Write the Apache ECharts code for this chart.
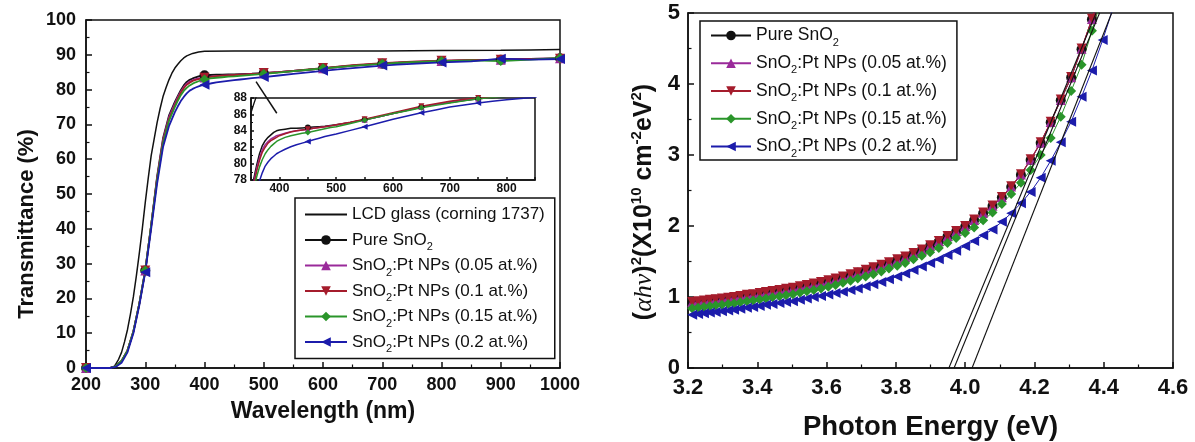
<!DOCTYPE html>
<html><head><meta charset="utf-8">
<script src="https://cdn.jsdelivr.net/npm/echarts@6/dist/echarts.min.js"></script>
<style>html,body{margin:0;padding:0;background:#fff}#c{width:1195px;height:442px}</style>
</head><body><div id="c"></div>
<script>
// ---------- Left panel: transmittance ----------
const wavelengths = [200,220,240,250,260,270,280,290,300,310,320,330,340,350,355,360,365,370,375,380,385,390,395,400,410,420,430,440,450,460,470,480,490,500,525,550,575,600,625,650,675,700,725,750,775,800,850,900,950,1000];
const pureSnO2T = [0,0,0,0.5,2,5,10.5,18.5,28,41,55,66,72.5,76.5,78.2,79.8,81.2,82.2,82.8,83.2,83.5,83.8,84,84.1,84.2,84.3,84.3,84.35,84.4,84.45,84.5,84.55,84.65,84.75,85.0,85.35,85.7,86.1,86.5,86.9,87.2,87.45,87.7,87.9,88.05,88.2,88.4,88.6,88.8,89.0];
const pt005T = [0,0,0,0.5,2,5,10.5,18.5,28,41,54.5,65.5,72,76,77.8,79.4,80.7,81.7,82.3,82.7,83.0,83.2,83.4,83.5,83.7,83.9,84.0,84.1,84.2,84.3,84.4,84.5,84.6,84.7,85.0,85.35,85.7,86.1,86.5,86.9,87.2,87.5,87.75,87.95,88.1,88.25,88.45,88.6,88.8,89.0];
const pt01T = [0,0,0,0.5,2,5,10.5,18.5,28,41,54.5,65,71.5,75.5,77.4,79.1,80.4,81.4,82.0,82.5,82.8,83.0,83.2,83.4,83.65,83.85,84.0,84.1,84.2,84.3,84.4,84.5,84.6,84.75,85.05,85.4,85.8,86.2,86.6,87.0,87.3,87.6,87.85,88.0,88.15,88.3,88.5,88.6,88.8,88.9];
const pt015T = [0,0,0,0.5,2,5,10.5,18.5,28,41,54,64.5,71,75,76.8,78.4,79.6,80.5,81.2,81.7,82.1,82.4,82.7,82.9,83.2,83.4,83.55,83.7,83.8,83.95,84.1,84.25,84.4,84.5,84.9,85.3,85.7,86.1,86.45,86.8,87.1,87.4,87.65,87.9,88.05,88.2,88.4,88.2,88.6,89.1];
const pt02T = [0,0,0,0.3,1.5,4.5,10,18,27.5,40,53,63.5,69.5,73.5,75.2,76.7,77.9,78.9,79.7,80.2,80.6,80.9,81.2,81.4,81.75,82.05,82.3,82.5,82.7,82.9,83.1,83.3,83.45,83.6,84.05,84.5,84.95,85.4,85.8,86.2,86.55,86.9,87.15,87.4,87.6,87.8,88.1,88.9,88.6,88.8];
const lcdWavelengths = [200,240,248,255,260,265,270,275,280,285,290,295,300,305,310,315,320,325,330,335,340,345,350,355,360,365,370,380,390,400,450,500,600,700,800,900,950,1000];
const lcdGlassT = [0,0,0.5,2.5,4.5,7.5,11,15.5,20.5,26.5,33,40,47.5,54.5,61,65.8,70.5,74.5,78,80.5,82.8,84.7,86.2,87.3,88.3,89.1,89.7,90.4,90.8,91.0,91.1,91.1,91.1,91.1,91.2,91.3,91.4,91.5];

// ---------- Right panel: Tauc plot ----------
const energies = [3.212,3.229,3.246,3.263,3.280,3.298,3.316,3.333,3.351,3.370,3.388,
 3.407,3.425,3.444,3.464,3.483,3.503,3.523,3.543,3.563,3.584,
 3.605,3.626,3.647,3.669,3.690,3.713,3.735,3.758,3.780,3.804,
 3.827,3.851,3.875,3.899,3.924,3.949,3.974,4.000,4.026,4.052,
 4.079,4.106,4.133,4.161,4.189,4.218,4.247,4.276,4.306,4.336,
 4.366,4.397,4.429];
const pureSnO2A = [0.92,0.93,0.94,0.95,0.96,0.97,0.98,0.99,1.005,1.02,1.03,
 1.045,1.06,1.075,1.09,1.105,1.12,1.14,1.16,1.18,1.20,
 1.225,1.25,1.28,1.31,1.34,1.375,1.41,1.445,1.48,1.52,
 1.56,1.61,1.66,1.72,1.78,1.85,1.92,1.99,2.08,2.18,
 2.28,2.40,2.55,2.72,2.93,3.17,3.46,3.77,4.09,4.49,
 4.91,5.34,5.8];
const pt005A = [0.925,0.935,0.945,0.955,0.965,0.975,0.985,0.995,1.01,1.025,1.035,
 1.05,1.065,1.08,1.095,1.11,1.125,1.145,1.165,1.185,1.205,
 1.23,1.255,1.285,1.315,1.345,1.38,1.415,1.45,1.485,1.525,
 1.565,1.615,1.665,1.725,1.785,1.855,1.925,1.995,2.085,2.185,
 2.285,2.405,2.555,2.725,2.935,3.175,3.465,3.775,4.095,4.495,
 4.915,5.345,5.8];
const pt01A = [0.93,0.94,0.95,0.96,0.97,0.98,0.99,1.00,1.015,1.03,1.04,
 1.055,1.07,1.085,1.10,1.115,1.13,1.15,1.17,1.19,1.21,
 1.235,1.26,1.29,1.32,1.35,1.385,1.42,1.455,1.49,1.53,
 1.57,1.62,1.67,1.73,1.79,1.86,1.93,2.00,2.09,2.19,
 2.29,2.41,2.56,2.73,2.94,3.18,3.47,3.78,4.10,4.50,
 4.92,5.35,5.8];
const pt015A = [0.84,0.85,0.86,0.87,0.88,0.89,0.90,0.91,0.925,0.94,0.95,
 0.965,0.98,0.995,1.01,1.025,1.04,1.06,1.08,1.10,1.12,
 1.145,1.17,1.20,1.23,1.26,1.29,1.32,1.36,1.40,1.44,
 1.48,1.53,1.58,1.63,1.69,1.76,1.83,1.90,1.98,2.08,
 2.19,2.31,2.45,2.61,2.79,3.00,3.24,3.54,3.90,4.27,
 4.75,5.25,5.7];
const pt02A = [0.75,0.76,0.77,0.78,0.79,0.80,0.81,0.82,0.835,0.85,0.86,
 0.875,0.89,0.90,0.915,0.93,0.94,0.96,0.98,1.00,1.015,
 1.035,1.055,1.075,1.10,1.12,1.15,1.18,1.21,1.25,1.29,
 1.33,1.38,1.43,1.48,1.53,1.59,1.65,1.72,1.79,1.87,
 1.95,2.06,2.18,2.32,2.48,2.68,2.92,3.18,3.47,3.82,
 4.19,4.62,5.10];
const fitLineA = [[3.953,0],[4.378,5]];
const fitLineB = [[3.968,0],[4.388,5]];
const fitLineC = [[4.020,0],[4.423,5]];

// arrow annotation (data coordinates of the main left panel)
const arrowFrom = [522,73.2];
const arrowTo = [487,82.3];

const names = ['LCD glass (corning 1737)','Pure SnO2','SnO2:Pt NPs (0.05 at.%)','SnO2:Pt NPs (0.1 at.%)','SnO2:Pt NPs (0.15 at.%)','SnO2:Pt NPs (0.2 at.%)'];
const leftVals = [pureSnO2T, pt005T, pt01T, pt015T, pt02T];
const rightVals = [pureSnO2A, pt005A, pt01A, pt015A, pt02A];

const styles = [
  {color:'#111111', symbol:'circle', rot:0},
  {color:'#9a2a9a', symbol:'triangle', rot:0},
  {color:'#a51c2c', symbol:'triangle', rot:180},
  {color:'#2a952a', symbol:'diamond', rot:0},
  {color:'#1c1cab', symbol:'triangle', rot:90}
];

const FONT = 'Liberation Sans';
function axisBase(fs, margin, minor) {
  return {
    axisLine:{show:true, onZero:false, lineStyle:{color:'#111', width:1.5}},
    axisTick:{show:true, inside:true, length:6, lineStyle:{color:'#111', width:1.5}},
    minorTick:{show:minor, splitNumber:2, length:3.5, lineStyle:{color:'#111', width:1.2}},
    splitLine:{show:false}, minorSplitLine:{show:false},
    axisLabel:{color:'#111', fontWeight:'bold', fontSize:fs, fontFamily:FONT, margin:margin, showMinLabel:true, showMaxLabel:true,
      formatter: v => String(v)}
  };
}

const series = [];
// main left
series.push({
  name:names[0], type:'line', xAxisIndex:0, yAxisIndex:0, symbol:'none',
  data: lcdWavelengths.map((w,i)=>[w, lcdGlassT[i]]),
  lineStyle:{color:'#111', width:1.5}, itemStyle:{color:'#111'}, z:3,
  markLine:{silent:true, symbol:['none','arrow'], symbolSize:[0,9], label:{show:false},
    lineStyle:{color:'#111', width:1.5, type:'solid'},
    data:[[{coord:arrowFrom},{coord:arrowTo}]]}
});
leftVals.forEach((vals,k)=>{
  const s = styles[k];
  series.push({
    name:names[k+1], type:'line', xAxisIndex:0, yAxisIndex:0,
    symbol:s.symbol, symbolRotate:s.rot, symbolSize:10,
    data: wavelengths.map((w,i)=> w%100===0 ? [w, vals[i]] : {value:[w, vals[i]], symbol:'none'}),
    lineStyle:{color:s.color, width:1.8}, itemStyle:{color:s.color}, z:3
  });
});
// inset
series.push({
  name:names[0], type:'line', xAxisIndex:1, yAxisIndex:1, symbol:'none',
  data: lcdWavelengths.map((w,i)=>[w, lcdGlassT[i]]),
  lineStyle:{color:'#111', width:1.3}, itemStyle:{color:'#111'}
});
leftVals.forEach((vals,k)=>{
  const s = styles[k];
  series.push({
    name:names[k+1], type:'line', xAxisIndex:1, yAxisIndex:1,
    symbol:s.symbol, symbolRotate:s.rot, symbolSize:6,
    data: wavelengths.map((w,i)=> w%100===50 ? [w, vals[i]] : {value:[w, vals[i]], symbol:'none'}),
    lineStyle:{color:s.color, width:1.5}, itemStyle:{color:s.color}
  });
});
// right
rightVals.forEach((vals,k)=>{
  const s = styles[k];
  series.push({
    name:names[k+1], type:'line', xAxisIndex:2, yAxisIndex:2,
    symbol:s.symbol, symbolRotate:s.rot, symbolSize:10,
    data: energies.map((e,i)=>[e, vals[i]]),
    lineStyle:{color:s.color, width:1}, itemStyle:{color:s.color}
  });
});
[fitLineA, fitLineB, fitLineC].forEach((ln,k)=>{
  series.push({name:'fit'+k, type:'line', xAxisIndex:2, yAxisIndex:2, symbol:'none',
    data:ln, lineStyle:{color:'#111', width:1.1}, z:4});
});

const legendText = (fs, lh) => ({fontSize:fs, fontFamily:FONT, color:'#111', lineHeight:lh,
  rich:{s:{fontSize:11, lineHeight:11, verticalAlign:'bottom', fontFamily:FONT, color:'#111'}}});
const fmt = n => n.replace('SnO2', 'SnO{s|2}');
const leftLegendData = names.map((n,i)=> i===0 ? {name:n, itemStyle:{color:'rgba(0,0,0,0)', borderWidth:0, opacity:0}} : n);

const option = {
  animation:false,
  backgroundColor:'#fff',
  grid:[
    {left:86, top:20, width:474, height:348, show:true, borderColor:'#111', borderWidth:1.5, containLabel:false, outerBoundsMode:'none'},
    {left:251, top:98, width:284, height:82, show:true, borderColor:'#111', borderWidth:1.5, containLabel:false, outerBoundsMode:'none'},
    {left:688, top:13, width:485, height:355, show:true, borderColor:'#111', borderWidth:1.5, containLabel:false, outerBoundsMode:'none'}
  ],
  xAxis:[
    Object.assign(axisBase(18, 8, true), {type:'value', gridIndex:0, min:200, max:1000, interval:100,
      name:'Wavelength (nm)', nameLocation:'middle', nameGap:32,
      nameTextStyle:{fontSize:23, fontWeight:'bold', fontFamily:FONT, color:'#111'}}),
    (function(){ const a = axisBase(12, 3, false);
      a.axisLabel.formatter = v => (v % 100 === 0 ? String(v) : '');
      a.axisTick.length = 3;
      return Object.assign(a, {type:'value', gridIndex:1, min:350, max:850, interval:50}); })(),
    (function(){ const a = axisBase(22, 9, true);
      a.axisLabel.formatter = v => v.toFixed(1);
      return Object.assign(a, {type:'value', gridIndex:2, min:3.2, max:4.6, interval:0.2,
      name:'Photon Energy (eV)', nameLocation:'middle', nameGap:45,
      nameTextStyle:{fontSize:27.5, fontWeight:'bold', fontFamily:FONT, color:'#111'}}); })()
  ],
  yAxis:[
    Object.assign(axisBase(18, 10, true), {type:'value', gridIndex:0, min:0, max:100, interval:10}),
    (function(){ const a = axisBase(12, 4, true);
      a.axisTick.length = 3; a.minorTick.length = 2;
      return Object.assign(a, {type:'value', gridIndex:1, min:78, max:88, interval:2}); })(),
    Object.assign(axisBase(22, 8, true), {type:'value', gridIndex:2, min:0, max:5, interval:1})
  ],
  legend:[
    {data:leftLegendData, orient:'vertical', left:295, top:198, padding:[4,10,4,9], itemGap:0.5,
     itemWidth:42, itemHeight:12, selectedMode:false, borderColor:'#111', borderWidth:1.5,
     backgroundColor:'#fff', formatter:fmt, textStyle:legendText(17,25)},
    {data:names.slice(1), orient:'vertical', left:700, top:21, padding:[2,10,1,10], itemGap:2.75,
     itemWidth:40, itemHeight:12, selectedMode:false, borderColor:'#111', borderWidth:1.5,
     backgroundColor:'#fff', formatter:fmt, textStyle:legendText(17.5,25)}
  ],
  graphic:[
    {type:'text', x:27, y:224, rotation:Math.PI/2,
     style:{text:'Transmittance (%)', fontSize:22, fontWeight:'bold', fontFamily:FONT, fill:'#111',
       textAlign:'center', textVerticalAlign:'middle', align:'center', verticalAlign:'middle'}},
    {type:'text', x:644, y:202, rotation:Math.PI/2,
     style:{text:'{p|(}{i|αhν}{p|)}{u|2}{p|(X10}{u|10}{p| cm}{u|-2}{p|eV}{u|2}{p|)}',
       fill:'#111', textAlign:'center', textVerticalAlign:'middle', align:'center', verticalAlign:'middle',
       rich:{
         p:{fontSize:25, fontWeight:'bold', fontFamily:FONT, fill:'#111', lineHeight:30},
         i:{fontSize:26, fontStyle:'italic', fontFamily:'Liberation Serif', fill:'#111', lineHeight:30},
         u:{fontSize:15, fontWeight:'bold', fontFamily:FONT, fill:'#111', lineHeight:15, verticalAlign:'top'}
       }}}
  ],
  series:series
};
const chart = echarts.init(document.getElementById('c'), null, {renderer:'canvas'});
chart.setOption(option);
</script></body></html>
